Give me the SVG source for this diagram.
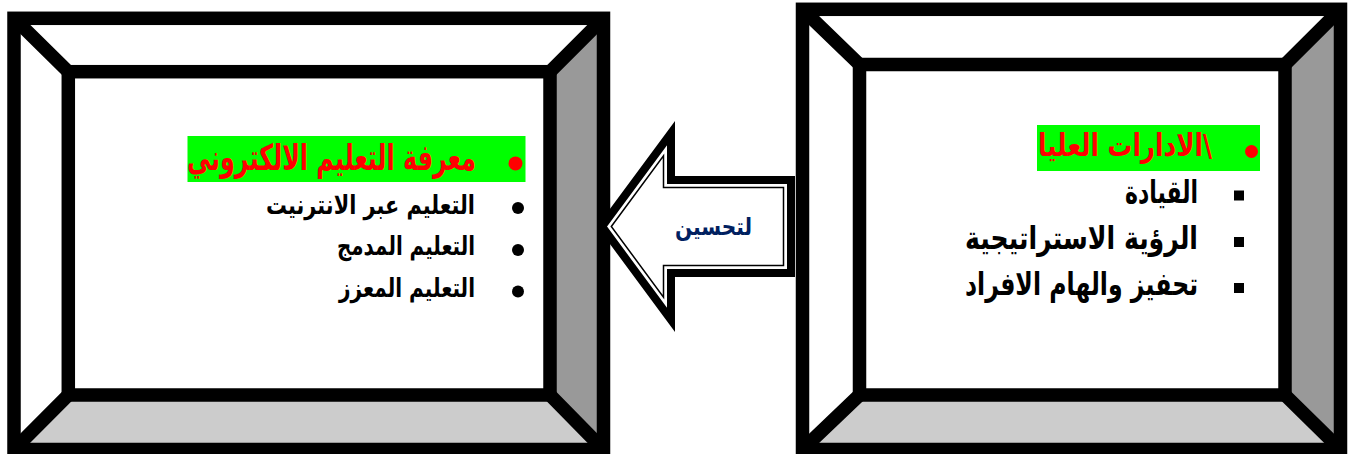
<svg xmlns="http://www.w3.org/2000/svg" width="1350" height="454" viewBox="0 0 1350 454">
<style>
.edge{fill:none;stroke:#000;stroke-width:13.5;stroke-linejoin:miter}
.w{fill:#fff}
.side{fill:#999999}
.base{fill:#cccccc}
.hl{fill:#00ff00}
.ar{font-family:'DejaVu Sans','Liberation Sans','Noto Sans',sans-serif;font-weight:bold}
.red{fill:#ff0000}
.blk{fill:#000}
</style>
<rect width="1350" height="454" fill="#fff"/>
<g id="box-left">
<polygon class="w" points="14,18.3 603.5,18.3 550,71.7 68.3,71.7"/>
<polygon class="w" points="14,18.3 68.3,71.7 68.3,395 14,449.5"/>
<polygon class="side" points="603.5,18.3 603.5,449.5 550,395 550,71.7"/>
<polygon class="base" points="68.3,395 550,395 603.5,449.5 14,449.5"/>
<rect class="w" x="68.3" y="71.7" width="481.7" height="323.3"/>
<rect class="edge" x="14" y="18.3" width="589.5" height="431.2"/>
<rect class="edge" x="68.3" y="71.7" width="481.7" height="323.3"/>
<path class="edge" d="M14,18.3L68.3,71.7M603.5,18.3L550,71.7M603.5,449.5L550,395M14,449.5L68.3,395"/>
<rect class="hl" x="187.5" y="136" width="338" height="46"/>
<circle class="red" cx="515.5" cy="163.5" r="7"/>
<text class="ar red" x="476" y="170" font-size="36" direction="rtl" text-anchor="start" textLength="289" lengthAdjust="spacingAndGlyphs">معرفة التعليم الالكتروني</text>
<circle class="blk" cx="518" cy="208" r="6"/>
<circle class="blk" cx="518" cy="250" r="6"/>
<circle class="blk" cx="518" cy="291.5" r="6"/>
<text class="ar blk" x="475" y="213.5" font-size="26" direction="rtl" text-anchor="start" textLength="209" lengthAdjust="spacingAndGlyphs">التعليم عبر الانترنيت</text>
<text class="ar blk" x="475" y="254.5" font-size="26" direction="rtl" text-anchor="start" textLength="138" lengthAdjust="spacingAndGlyphs">التعليم المدمج</text>
<text class="ar blk" x="475" y="296.5" font-size="26" direction="rtl" text-anchor="start" textLength="136" lengthAdjust="spacingAndGlyphs">التعليم المعزز</text>
</g>
<g id="box-right">
<polygon class="w" points="802.5,9.3 1340.5,9.3 1285,64.5 859.5,64.5"/>
<polygon class="w" points="802.5,9.3 859.5,64.5 859.5,395 802.5,449.5"/>
<polygon class="side" points="1340.5,9.3 1340.5,449.5 1285,395 1285,64.5"/>
<polygon class="base" points="859.5,395 1285,395 1340.5,449.5 802.5,449.5"/>
<rect class="w" x="859.5" y="64.5" width="425.5" height="330.5"/>
<rect class="edge" x="802.5" y="9.3" width="538" height="440.2"/>
<rect class="edge" x="859.5" y="64.5" width="425.5" height="330.5"/>
<path class="edge" d="M802.5,9.3L859.5,64.5M1340.5,9.3L1285,64.5M1340.5,449.5L1285,395M802.5,449.5L859.5,395"/>
<rect class="hl" x="1037" y="125" width="223" height="46"/>
<circle class="red" cx="1251.5" cy="151.5" r="6.5"/>
<text class="ar red" x="1212" y="156" font-size="31" direction="rtl" text-anchor="start" textLength="174" lengthAdjust="spacingAndGlyphs">\الادارات العليا</text>
<rect class="blk" x="1234" y="190.5" width="10" height="10"/>
<rect class="blk" x="1234" y="237" width="10" height="10"/>
<rect class="blk" x="1234" y="283" width="10" height="10"/>
<text class="ar blk" x="1198" y="203" font-size="32" direction="rtl" text-anchor="start" textLength="73" lengthAdjust="spacingAndGlyphs">القيادة</text>
<text class="ar blk" x="1198" y="249" font-size="32" direction="rtl" text-anchor="start" textLength="233" lengthAdjust="spacingAndGlyphs">الرؤية الاستراتيجية</text>
<text class="ar blk" x="1198" y="295" font-size="32" direction="rtl" text-anchor="start" textLength="233" lengthAdjust="spacingAndGlyphs">تحفيز والهام الافراد</text>
</g>
<g id="connectors">
<g id="arrow-improve">
<polygon points="602,226.5 671,133.1 671,180 791,180 791,273 671,273 671,319.9" fill="#fff" stroke="#000" stroke-width="8" stroke-linejoin="miter"/>
<polygon points="611.3,226.5 663.5,155.9 663.5,187.5 783.5,187.5 783.5,265.5 663.5,265.5 663.5,297.1" fill="none" stroke="#000" stroke-width="1.5" stroke-linejoin="miter"/>
<text class="ar" fill="#002060" x="752" y="235" font-size="24" direction="rtl" text-anchor="start" textLength="77" lengthAdjust="spacingAndGlyphs">لتحسين</text>
</g>
</g>
</svg>
